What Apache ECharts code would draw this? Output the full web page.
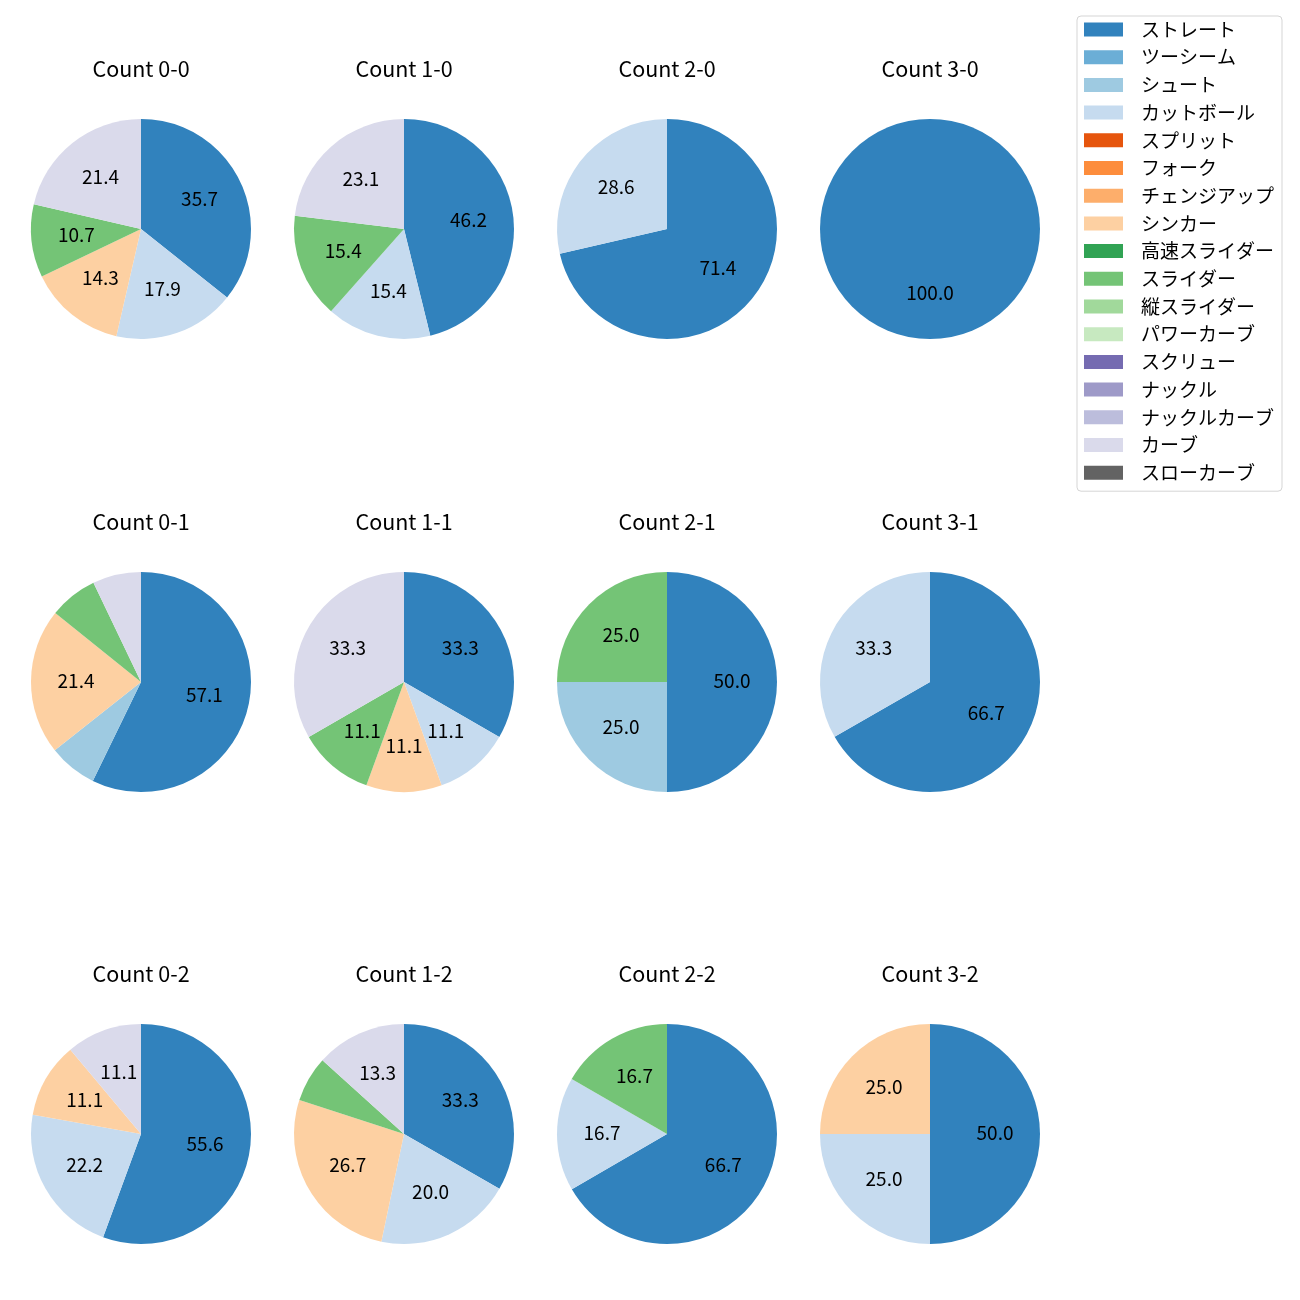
<!DOCTYPE html>
<html>
<head>
<meta charset="utf-8">
<script src="https://cdn.jsdelivr.net/npm/echarts@6/dist/echarts.min.js"></script>
<style>html,body{margin:0;padding:0;background:#fff}#c{width:1300px;height:1300px}</style>
</head>
<body>
<div id="c"></div>
<script>
const pitchTypes = ['ストレート','ツーシーム','シュート','カットボール','スプリット','フォーク','チェンジアップ','シンカー','高速スライダー','スライダー','縦スライダー','パワーカーブ','スクリュー','ナックル','ナックルカーブ','カーブ','スローカーブ'];
const pitchColors = ['#3182bd','#6baed6','#9ecae1','#c6dbef','#e6550d','#fd8d3c','#fdae6b','#fdd0a2','#31a354','#74c476','#a1d99b','#c7e9c0','#756bb1','#9e9ac8','#bcbddc','#dadaeb','#636363'];
const countTitles = ['Count 0-0','Count 1-0','Count 2-0','Count 3-0','Count 0-1','Count 1-1','Count 2-1','Count 3-1','Count 0-2','Count 1-2','Count 2-2','Count 3-2'];
// percentages per pitch type (order as pitchTypes)
const count_0_0 = [35.7,0,0,17.9,0,0,0,14.3,0,10.7,0,0,0,0,0,21.4,0];
const count_1_0 = [46.2,0,0,15.4,0,0,0,0,0,15.4,0,0,0,0,0,23.1,0];
const count_2_0 = [71.4,0,0,28.6,0,0,0,0,0,0,0,0,0,0,0,0,0];
const count_3_0 = [100.0,0,0,0,0,0,0,0,0,0,0,0,0,0,0,0,0];
const count_0_1 = [57.1,0,7.1,0,0,0,0,21.4,0,7.1,0,0,0,0,0,7.1,0];
const count_1_1 = [33.3,0,0,11.1,0,0,0,11.1,0,11.1,0,0,0,0,0,33.3,0];
const count_2_1 = [50.0,0,25.0,0,0,0,0,0,0,25.0,0,0,0,0,0,0,0];
const count_3_1 = [66.7,0,0,33.3,0,0,0,0,0,0,0,0,0,0,0,0,0];
const count_0_2 = [55.6,0,0,22.2,0,0,0,11.1,0,0,0,0,0,0,0,11.1,0];
const count_1_2 = [33.3,0,0,20.0,0,0,0,26.7,0,6.7,0,0,0,0,0,13.3,0];
const count_2_2 = [66.7,0,0,16.7,0,0,0,0,0,16.7,0,0,0,0,0,0,0];
const count_3_2 = [50.0,0,0,25.0,0,0,0,25.0,0,0,0,0,0,0,0,0,0];
const allCounts = [count_0_0,count_1_0,count_2_0,count_3_0,count_0_1,count_1_1,count_2_1,count_3_1,count_0_2,count_1_2,count_2_2,count_3_2];

const FONT = '"Noto Sans CJK JP", "Noto Sans", sans-serif';
const colX = [141, 404, 667, 930];
const rowY = [229, 682, 1134];
const titleY = [69, 522, 974];
const R = 110;

const titles = [];
const series = [];
// legend carrier
series.push({
  type: 'pie', radius: 0, center: [-100, -100], silent: true,
  stillShowZeroSum: false, label: {show: false},
  data: pitchTypes.map((n, i) => ({name: n, value: 0, itemStyle: {color: pitchColors[i]}}))
});
allCounts.forEach((vals, k) => {
  const col = k % 4, row = Math.floor(k / 4);
  const data = [];
  vals.forEach((v, i) => { if (v > 0) data.push({name: pitchTypes[i], value: v, itemStyle: {color: pitchColors[i]}}); });
  titles.push({
    text: countTitles[k], left: colX[col], top: titleY[row] - 13, textAlign: 'center', padding: 0,
    textStyle: {fontFamily: FONT, fontSize: 21.5, fontWeight: 'normal', color: '#000', lineHeight: 26}
  });
  series.push({
    type: 'pie', center: [colX[col], rowY[row]], radius: R, startAngle: 90, clockwise: true,
    silent: true, label: {show: false}, labelLine: {show: false},
    itemStyle: {borderWidth: 0}, emphasis: {disabled: true},
    data: data
  });
  series.push({
    type: 'pie', center: [colX[col], rowY[row]], radius: [14, R], startAngle: 90, clockwise: true,
    silent: true, legendHoverLink: false, emphasis: {disabled: true},
    itemStyle: {color: 'rgba(0,0,0,0)', borderWidth: 0},
    labelLine: {show: false},
    label: {
      show: true, position: 'inside', fontFamily: FONT, fontSize: 19, color: '#000', offset: [0, -1.5],
      formatter: p => (p.value >= 10 ? p.value.toFixed(1) : '')
    },
    data: data.map(d => ({name: d.name, value: d.value}))
  });
});

const chart = echarts.init(document.getElementById('c'), null, {renderer: 'canvas'});
chart.setOption({
  animation: false,
  backgroundColor: '#fff',
  title: titles,
  legend: {
    orient: 'vertical', left: 1077, top: 16, icon: 'rect',
    itemWidth: 39, itemHeight: 14, itemGap: 8.7,
    padding: [4, 8, 9, 7],
    borderColor: '#d5d5d5', borderWidth: 1, borderRadius: 4, backgroundColor: '#fff',
    selectedMode: false,
    textStyle: {fontFamily: FONT, fontSize: 19, color: '#000', padding: [0, 0, 0, 13]},
    data: pitchTypes
  },
  series: series
});
</script>
</body>
</html>
